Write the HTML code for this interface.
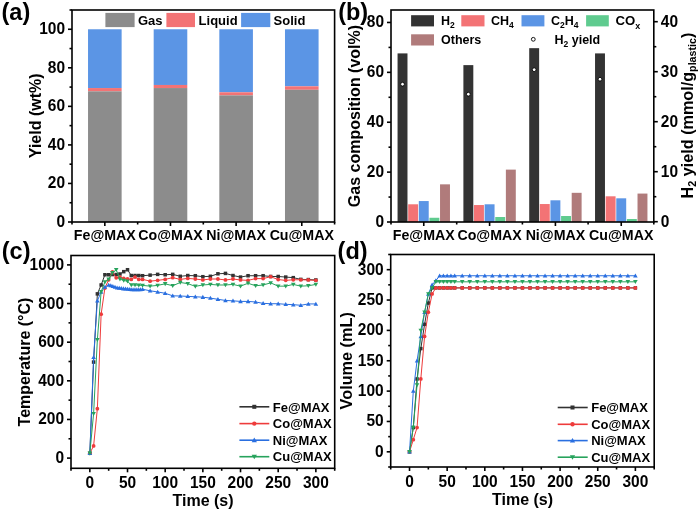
<!DOCTYPE html>
<html><head><meta charset="utf-8"><style>
html,body{margin:0;padding:0;background:#fff;overflow:hidden;width:700px;height:510px;}
svg{display:block;font-family:"Liberation Sans", sans-serif;filter:blur(0.4px);}
</style></head><body>
<svg width="700" height="510" viewBox="0 0 700 510">
<rect x="0" y="0" width="700" height="510" fill="#fff"/>
<rect x="88.03" y="29.27" width="33.60" height="58.78" fill="#5b95e5" />
<rect x="88.03" y="88.05" width="33.60" height="3.28" fill="#f37375" />
<rect x="88.03" y="91.33" width="33.60" height="130.67" fill="#8c8c8c" />
<rect x="153.68" y="29.27" width="33.60" height="55.70" fill="#5b95e5" />
<rect x="153.68" y="84.97" width="33.60" height="3.08" fill="#f37375" />
<rect x="153.68" y="88.05" width="33.60" height="133.95" fill="#8c8c8c" />
<rect x="219.32" y="29.27" width="33.60" height="63.02" fill="#5b95e5" />
<rect x="219.32" y="92.29" width="33.60" height="3.08" fill="#f37375" />
<rect x="219.32" y="95.38" width="33.60" height="126.62" fill="#8c8c8c" />
<rect x="284.98" y="29.27" width="33.60" height="57.05" fill="#5b95e5" />
<rect x="284.98" y="86.32" width="33.60" height="3.47" fill="#f37375" />
<rect x="284.98" y="89.79" width="33.60" height="132.21" fill="#8c8c8c" />
<rect x="72.00" y="10.00" width="262.60" height="212.00" fill="none" stroke="#000" stroke-width="1.6"/>
<line x1="68.00" y1="222.00" x2="72.00" y2="222.00" stroke="#000" stroke-width="1.6"/>
<text transform="translate(65.00,227.00) scale(1,1.12)" font-size="15.5" text-anchor="end" font-weight="bold">0</text>
<line x1="68.00" y1="183.45" x2="72.00" y2="183.45" stroke="#000" stroke-width="1.6"/>
<text transform="translate(65.00,188.45) scale(1,1.12)" font-size="15.5" text-anchor="end" font-weight="bold">20</text>
<line x1="68.00" y1="144.91" x2="72.00" y2="144.91" stroke="#000" stroke-width="1.6"/>
<text transform="translate(65.00,149.91) scale(1,1.12)" font-size="15.5" text-anchor="end" font-weight="bold">40</text>
<line x1="68.00" y1="106.36" x2="72.00" y2="106.36" stroke="#000" stroke-width="1.6"/>
<text transform="translate(65.00,111.36) scale(1,1.12)" font-size="15.5" text-anchor="end" font-weight="bold">60</text>
<line x1="68.00" y1="67.82" x2="72.00" y2="67.82" stroke="#000" stroke-width="1.6"/>
<text transform="translate(65.00,72.82) scale(1,1.12)" font-size="15.5" text-anchor="end" font-weight="bold">80</text>
<line x1="68.00" y1="29.27" x2="72.00" y2="29.27" stroke="#000" stroke-width="1.6"/>
<text transform="translate(65.00,34.27) scale(1,1.12)" font-size="15.5" text-anchor="end" font-weight="bold">100</text>
<line x1="69.50" y1="202.73" x2="72.00" y2="202.73" stroke="#000" stroke-width="1.6"/>
<line x1="69.50" y1="164.18" x2="72.00" y2="164.18" stroke="#000" stroke-width="1.6"/>
<line x1="69.50" y1="125.64" x2="72.00" y2="125.64" stroke="#000" stroke-width="1.6"/>
<line x1="69.50" y1="87.09" x2="72.00" y2="87.09" stroke="#000" stroke-width="1.6"/>
<line x1="69.50" y1="48.55" x2="72.00" y2="48.55" stroke="#000" stroke-width="1.6"/>
<line x1="69.50" y1="10.00" x2="72.00" y2="10.00" stroke="#000" stroke-width="1.6"/>
<line x1="104.83" y1="222.00" x2="104.83" y2="226.00" stroke="#000" stroke-width="1.6"/>
<line x1="170.48" y1="222.00" x2="170.48" y2="226.00" stroke="#000" stroke-width="1.6"/>
<line x1="236.12" y1="222.00" x2="236.12" y2="226.00" stroke="#000" stroke-width="1.6"/>
<line x1="301.78" y1="222.00" x2="301.78" y2="226.00" stroke="#000" stroke-width="1.6"/>
<line x1="72.00" y1="222.00" x2="72.00" y2="224.50" stroke="#000" stroke-width="1.6"/>
<line x1="137.65" y1="222.00" x2="137.65" y2="224.50" stroke="#000" stroke-width="1.6"/>
<line x1="203.30" y1="222.00" x2="203.30" y2="224.50" stroke="#000" stroke-width="1.6"/>
<line x1="268.95" y1="222.00" x2="268.95" y2="224.50" stroke="#000" stroke-width="1.6"/>
<line x1="334.60" y1="222.00" x2="334.60" y2="224.50" stroke="#000" stroke-width="1.6"/>
<text x="104.83" y="240.40" font-size="14.2" text-anchor="middle" font-weight="bold" >Fe@MAX</text>
<text x="170.48" y="240.40" font-size="14.2" text-anchor="middle" font-weight="bold" >Co@MAX</text>
<text x="236.12" y="240.40" font-size="14.2" text-anchor="middle" font-weight="bold" >Ni@MAX</text>
<text x="301.78" y="240.40" font-size="14.2" text-anchor="middle" font-weight="bold" >Cu@MAX</text>
<text x="0.00" y="0.00" font-size="16.0" text-anchor="middle" font-weight="bold" transform="translate(40.8,115.8) rotate(-90)">Yield (wt%)</text>
<rect x="105.40" y="12.90" width="29.20" height="14.20" fill="#8c8c8c" />
<text x="138.00" y="25.00" font-size="13" text-anchor="start" font-weight="bold" >Gas</text>
<rect x="166.40" y="12.90" width="28.60" height="14.20" fill="#f37375" />
<text x="198.60" y="25.00" font-size="13" text-anchor="start" font-weight="bold" >Liquid</text>
<rect x="241.10" y="12.90" width="29.20" height="14.20" fill="#5b95e5" />
<text x="273.60" y="25.00" font-size="13" text-anchor="start" font-weight="bold" >Solid</text>
<text x="1.50" y="20.10" font-size="23.5" text-anchor="start" font-weight="bold" >(a)</text>
<rect x="397.56" y="53.40" width="9.92" height="168.60" fill="#333333" />
<rect x="408.18" y="204.29" width="9.92" height="17.71" fill="#f37375" />
<rect x="418.80" y="201.05" width="9.92" height="20.95" fill="#5b95e5" />
<rect x="429.42" y="217.76" width="9.92" height="4.24" fill="#5fcb8f" />
<rect x="440.04" y="184.34" width="9.92" height="37.66" fill="#b07b7b" />
<rect x="463.39" y="65.12" width="9.92" height="156.88" fill="#333333" />
<rect x="474.01" y="205.04" width="9.92" height="16.96" fill="#f37375" />
<rect x="484.63" y="204.29" width="9.92" height="17.71" fill="#5b95e5" />
<rect x="495.25" y="217.01" width="9.92" height="4.99" fill="#5fcb8f" />
<rect x="505.87" y="169.62" width="9.92" height="52.38" fill="#b07b7b" />
<rect x="529.21" y="48.16" width="9.92" height="173.84" fill="#333333" />
<rect x="539.83" y="204.04" width="9.92" height="17.96" fill="#f37375" />
<rect x="550.45" y="200.30" width="9.92" height="21.70" fill="#5b95e5" />
<rect x="561.07" y="216.01" width="9.92" height="5.99" fill="#5fcb8f" />
<rect x="571.69" y="192.82" width="9.92" height="29.18" fill="#b07b7b" />
<rect x="595.04" y="53.40" width="9.92" height="168.60" fill="#333333" />
<rect x="605.66" y="196.31" width="9.92" height="25.69" fill="#f37375" />
<rect x="616.28" y="198.31" width="9.92" height="23.69" fill="#5b95e5" />
<rect x="626.90" y="219.01" width="9.92" height="2.99" fill="#5fcb8f" />
<rect x="637.52" y="193.57" width="9.92" height="28.43" fill="#b07b7b" />
<circle cx="402.52" cy="84.20" r="1.9" fill="#fff" stroke="#000" stroke-width="0.9"/>
<circle cx="468.35" cy="94.20" r="1.9" fill="#fff" stroke="#000" stroke-width="0.9"/>
<circle cx="534.17" cy="69.70" r="1.9" fill="#fff" stroke="#000" stroke-width="0.9"/>
<circle cx="600.00" cy="79.20" r="1.9" fill="#fff" stroke="#000" stroke-width="0.9"/>
<rect x="391.00" y="10.00" width="262.80" height="212.00" fill="none" stroke="#000" stroke-width="1.6"/>
<line x1="387.00" y1="222.00" x2="391.00" y2="222.00" stroke="#000" stroke-width="1.6"/>
<text transform="translate(384.00,227.00) scale(1,1.12)" font-size="15.5" text-anchor="end" font-weight="bold">0</text>
<line x1="387.00" y1="172.12" x2="391.00" y2="172.12" stroke="#000" stroke-width="1.6"/>
<text transform="translate(384.00,177.12) scale(1,1.12)" font-size="15.5" text-anchor="end" font-weight="bold">20</text>
<line x1="387.00" y1="122.24" x2="391.00" y2="122.24" stroke="#000" stroke-width="1.6"/>
<text transform="translate(384.00,127.24) scale(1,1.12)" font-size="15.5" text-anchor="end" font-weight="bold">40</text>
<line x1="387.00" y1="72.35" x2="391.00" y2="72.35" stroke="#000" stroke-width="1.6"/>
<text transform="translate(384.00,77.35) scale(1,1.12)" font-size="15.5" text-anchor="end" font-weight="bold">60</text>
<line x1="387.00" y1="22.47" x2="391.00" y2="22.47" stroke="#000" stroke-width="1.6"/>
<text transform="translate(384.00,27.47) scale(1,1.12)" font-size="15.5" text-anchor="end" font-weight="bold">80</text>
<line x1="388.50" y1="197.06" x2="391.00" y2="197.06" stroke="#000" stroke-width="1.6"/>
<line x1="388.50" y1="147.18" x2="391.00" y2="147.18" stroke="#000" stroke-width="1.6"/>
<line x1="388.50" y1="97.29" x2="391.00" y2="97.29" stroke="#000" stroke-width="1.6"/>
<line x1="388.50" y1="47.41" x2="391.00" y2="47.41" stroke="#000" stroke-width="1.6"/>
<line x1="653.80" y1="221.70" x2="657.80" y2="221.70" stroke="#000" stroke-width="1.6"/>
<text transform="translate(660.80,226.70) scale(1,1.12)" font-size="15.5" text-anchor="start" font-weight="bold">0</text>
<line x1="653.80" y1="171.70" x2="657.80" y2="171.70" stroke="#000" stroke-width="1.6"/>
<text transform="translate(660.80,176.70) scale(1,1.12)" font-size="15.5" text-anchor="start" font-weight="bold">10</text>
<line x1="653.80" y1="121.70" x2="657.80" y2="121.70" stroke="#000" stroke-width="1.6"/>
<text transform="translate(660.80,126.70) scale(1,1.12)" font-size="15.5" text-anchor="start" font-weight="bold">20</text>
<line x1="653.80" y1="71.70" x2="657.80" y2="71.70" stroke="#000" stroke-width="1.6"/>
<text transform="translate(660.80,76.70) scale(1,1.12)" font-size="15.5" text-anchor="start" font-weight="bold">30</text>
<line x1="653.80" y1="21.70" x2="657.80" y2="21.70" stroke="#000" stroke-width="1.6"/>
<text transform="translate(660.80,26.70) scale(1,1.12)" font-size="15.5" text-anchor="start" font-weight="bold">40</text>
<line x1="653.80" y1="196.70" x2="656.30" y2="196.70" stroke="#000" stroke-width="1.6"/>
<line x1="653.80" y1="146.70" x2="656.30" y2="146.70" stroke="#000" stroke-width="1.6"/>
<line x1="653.80" y1="96.70" x2="656.30" y2="96.70" stroke="#000" stroke-width="1.6"/>
<line x1="653.80" y1="46.70" x2="656.30" y2="46.70" stroke="#000" stroke-width="1.6"/>
<line x1="423.76" y1="222.00" x2="423.76" y2="226.00" stroke="#000" stroke-width="1.6"/>
<line x1="489.59" y1="222.00" x2="489.59" y2="226.00" stroke="#000" stroke-width="1.6"/>
<line x1="555.41" y1="222.00" x2="555.41" y2="226.00" stroke="#000" stroke-width="1.6"/>
<line x1="621.24" y1="222.00" x2="621.24" y2="226.00" stroke="#000" stroke-width="1.6"/>
<line x1="391.00" y1="222.00" x2="391.00" y2="224.50" stroke="#000" stroke-width="1.6"/>
<line x1="456.70" y1="222.00" x2="456.70" y2="224.50" stroke="#000" stroke-width="1.6"/>
<line x1="522.40" y1="222.00" x2="522.40" y2="224.50" stroke="#000" stroke-width="1.6"/>
<line x1="588.10" y1="222.00" x2="588.10" y2="224.50" stroke="#000" stroke-width="1.6"/>
<line x1="653.80" y1="222.00" x2="653.80" y2="224.50" stroke="#000" stroke-width="1.6"/>
<text x="423.76" y="240.40" font-size="14.2" text-anchor="middle" font-weight="bold" >Fe@MAX</text>
<text x="489.59" y="240.40" font-size="14.2" text-anchor="middle" font-weight="bold" >Co@MAX</text>
<text x="555.41" y="240.40" font-size="14.2" text-anchor="middle" font-weight="bold" >Ni@MAX</text>
<text x="621.24" y="240.40" font-size="14.2" text-anchor="middle" font-weight="bold" >Cu@MAX</text>
<text x="0.00" y="0.00" font-size="16.0" text-anchor="middle" font-weight="bold" transform="translate(360.1,116) rotate(-90)">Gas composition (vol%)</text>
<g transform="translate(692.6,115.5) rotate(-90)"><text x="0" y="0" font-size="16.2" font-weight="bold" text-anchor="middle">H<tspan font-size="10.7" dy="3">2</tspan><tspan dy="-3"> yield (mmol/g</tspan><tspan font-size="10.7" dy="3">plastic</tspan><tspan dy="-3">)</tspan></text></g>
<rect x="411.10" y="15.20" width="22.90" height="11.20" fill="#333333" />
<text x="441" y="24.7" font-size="12.5" font-weight="bold">H<tspan font-size="8.5" dy="3">2</tspan></text>
<rect x="461.30" y="15.20" width="23.20" height="11.20" fill="#f37375" />
<text x="491" y="24.7" font-size="12.5" font-weight="bold">CH<tspan font-size="8.5" dy="3">4</tspan></text>
<rect x="521.50" y="15.20" width="22.90" height="11.20" fill="#5b95e5" />
<text x="551" y="24.7" font-size="12.5" font-weight="bold">C<tspan font-size="8.5" dy="3">2</tspan><tspan dy="-3">H</tspan><tspan font-size="8.5" dy="3">4</tspan></text>
<rect x="586.10" y="15.20" width="22.70" height="11.20" fill="#5fcb8f" />
<text x="615.5" y="25" font-size="13.2" font-weight="bold">CO<tspan font-size="9" dy="3.6">x</tspan></text>
<rect x="411.10" y="34.30" width="22.90" height="11.20" fill="#b07b7b" />
<text x="441.00" y="44.30" font-size="12.5" text-anchor="start" font-weight="bold" >Others</text>
<circle cx="533.3" cy="39.3" r="1.9" fill="#fff" stroke="#000" stroke-width="0.9"/>
<text x="554.5" y="44.0" font-size="12.5" font-weight="bold">H<tspan font-size="8.5" dy="3">2</tspan><tspan dy="-3"> yield</tspan></text>
<text x="338.20" y="20.10" font-size="23.5" text-anchor="start" font-weight="bold" >(b)</text>
<polyline points="89.84,453.27 93.60,362.08 97.37,293.88 101.14,284.99 104.90,274.75 108.67,274.75 112.44,274.56 116.21,274.56 119.97,273.98 123.74,271.66 127.51,269.73 131.27,275.53 135.04,275.53 138.81,275.53 142.58,275.72 150.11,275.14 157.64,274.37 165.18,274.75 172.71,274.37 180.25,276.30 187.78,275.53 195.32,275.72 202.85,276.69 210.38,276.30 217.92,273.79 225.45,273.40 232.99,275.53 240.52,277.07 248.06,275.72 255.59,275.72 263.12,275.72 270.66,276.49 278.19,276.49 285.73,277.07 293.26,277.65 300.80,279.39 308.33,279.58 315.86,279.97" fill="none" stroke="#323232" stroke-width="1.0" stroke-linejoin="round"/>
<rect x="88.09" y="451.52" width="3.50" height="3.50" fill="#323232"/>
<rect x="91.85" y="360.33" width="3.50" height="3.50" fill="#323232"/>
<rect x="95.62" y="292.13" width="3.50" height="3.50" fill="#323232"/>
<rect x="99.39" y="283.24" width="3.50" height="3.50" fill="#323232"/>
<rect x="103.15" y="273.00" width="3.50" height="3.50" fill="#323232"/>
<rect x="106.92" y="273.00" width="3.50" height="3.50" fill="#323232"/>
<rect x="110.69" y="272.81" width="3.50" height="3.50" fill="#323232"/>
<rect x="114.46" y="272.81" width="3.50" height="3.50" fill="#323232"/>
<rect x="118.22" y="272.23" width="3.50" height="3.50" fill="#323232"/>
<rect x="121.99" y="269.91" width="3.50" height="3.50" fill="#323232"/>
<rect x="125.76" y="267.98" width="3.50" height="3.50" fill="#323232"/>
<rect x="129.52" y="273.78" width="3.50" height="3.50" fill="#323232"/>
<rect x="133.29" y="273.78" width="3.50" height="3.50" fill="#323232"/>
<rect x="137.06" y="273.78" width="3.50" height="3.50" fill="#323232"/>
<rect x="140.83" y="273.97" width="3.50" height="3.50" fill="#323232"/>
<rect x="148.36" y="273.39" width="3.50" height="3.50" fill="#323232"/>
<rect x="155.89" y="272.62" width="3.50" height="3.50" fill="#323232"/>
<rect x="163.43" y="273.00" width="3.50" height="3.50" fill="#323232"/>
<rect x="170.96" y="272.62" width="3.50" height="3.50" fill="#323232"/>
<rect x="178.50" y="274.55" width="3.50" height="3.50" fill="#323232"/>
<rect x="186.03" y="273.78" width="3.50" height="3.50" fill="#323232"/>
<rect x="193.57" y="273.97" width="3.50" height="3.50" fill="#323232"/>
<rect x="201.10" y="274.94" width="3.50" height="3.50" fill="#323232"/>
<rect x="208.63" y="274.55" width="3.50" height="3.50" fill="#323232"/>
<rect x="216.17" y="272.04" width="3.50" height="3.50" fill="#323232"/>
<rect x="223.70" y="271.65" width="3.50" height="3.50" fill="#323232"/>
<rect x="231.24" y="273.78" width="3.50" height="3.50" fill="#323232"/>
<rect x="238.77" y="275.32" width="3.50" height="3.50" fill="#323232"/>
<rect x="246.31" y="273.97" width="3.50" height="3.50" fill="#323232"/>
<rect x="253.84" y="273.97" width="3.50" height="3.50" fill="#323232"/>
<rect x="261.37" y="273.97" width="3.50" height="3.50" fill="#323232"/>
<rect x="268.91" y="274.74" width="3.50" height="3.50" fill="#323232"/>
<rect x="276.44" y="274.74" width="3.50" height="3.50" fill="#323232"/>
<rect x="283.98" y="275.32" width="3.50" height="3.50" fill="#323232"/>
<rect x="291.51" y="275.90" width="3.50" height="3.50" fill="#323232"/>
<rect x="299.05" y="277.64" width="3.50" height="3.50" fill="#323232"/>
<rect x="306.58" y="277.83" width="3.50" height="3.50" fill="#323232"/>
<rect x="314.11" y="278.22" width="3.50" height="3.50" fill="#323232"/>
<polyline points="89.84,453.27 93.60,445.93 97.37,408.64 101.14,314.17 104.90,288.08 108.67,279.78 112.44,271.86 116.21,277.84 119.97,277.26 123.74,278.42 127.51,279.00 131.27,279.39 135.04,277.07 138.81,279.39 142.58,279.39 150.11,281.13 157.64,280.36 165.18,279.39 172.71,277.65 180.25,279.39 187.78,278.42 195.32,279.00 202.85,279.97 210.38,279.00 217.92,279.00 225.45,279.97 232.99,279.00 240.52,279.97 248.06,280.36 255.59,278.62 263.12,278.62 270.66,276.69 278.19,279.58 285.73,280.36 293.26,279.78 300.80,279.78 308.33,279.97 315.86,280.36" fill="none" stroke="#ee3b3b" stroke-width="1.0" stroke-linejoin="round"/>
<circle cx="89.84" cy="453.27" r="1.90" fill="#ee3b3b"/>
<circle cx="93.60" cy="445.93" r="1.90" fill="#ee3b3b"/>
<circle cx="97.37" cy="408.64" r="1.90" fill="#ee3b3b"/>
<circle cx="101.14" cy="314.17" r="1.90" fill="#ee3b3b"/>
<circle cx="104.90" cy="288.08" r="1.90" fill="#ee3b3b"/>
<circle cx="108.67" cy="279.78" r="1.90" fill="#ee3b3b"/>
<circle cx="112.44" cy="271.86" r="1.90" fill="#ee3b3b"/>
<circle cx="116.21" cy="277.84" r="1.90" fill="#ee3b3b"/>
<circle cx="119.97" cy="277.26" r="1.90" fill="#ee3b3b"/>
<circle cx="123.74" cy="278.42" r="1.90" fill="#ee3b3b"/>
<circle cx="127.51" cy="279.00" r="1.90" fill="#ee3b3b"/>
<circle cx="131.27" cy="279.39" r="1.90" fill="#ee3b3b"/>
<circle cx="135.04" cy="277.07" r="1.90" fill="#ee3b3b"/>
<circle cx="138.81" cy="279.39" r="1.90" fill="#ee3b3b"/>
<circle cx="142.58" cy="279.39" r="1.90" fill="#ee3b3b"/>
<circle cx="150.11" cy="281.13" r="1.90" fill="#ee3b3b"/>
<circle cx="157.64" cy="280.36" r="1.90" fill="#ee3b3b"/>
<circle cx="165.18" cy="279.39" r="1.90" fill="#ee3b3b"/>
<circle cx="172.71" cy="277.65" r="1.90" fill="#ee3b3b"/>
<circle cx="180.25" cy="279.39" r="1.90" fill="#ee3b3b"/>
<circle cx="187.78" cy="278.42" r="1.90" fill="#ee3b3b"/>
<circle cx="195.32" cy="279.00" r="1.90" fill="#ee3b3b"/>
<circle cx="202.85" cy="279.97" r="1.90" fill="#ee3b3b"/>
<circle cx="210.38" cy="279.00" r="1.90" fill="#ee3b3b"/>
<circle cx="217.92" cy="279.00" r="1.90" fill="#ee3b3b"/>
<circle cx="225.45" cy="279.97" r="1.90" fill="#ee3b3b"/>
<circle cx="232.99" cy="279.00" r="1.90" fill="#ee3b3b"/>
<circle cx="240.52" cy="279.97" r="1.90" fill="#ee3b3b"/>
<circle cx="248.06" cy="280.36" r="1.90" fill="#ee3b3b"/>
<circle cx="255.59" cy="278.62" r="1.90" fill="#ee3b3b"/>
<circle cx="263.12" cy="278.62" r="1.90" fill="#ee3b3b"/>
<circle cx="270.66" cy="276.69" r="1.90" fill="#ee3b3b"/>
<circle cx="278.19" cy="279.58" r="1.90" fill="#ee3b3b"/>
<circle cx="285.73" cy="280.36" r="1.90" fill="#ee3b3b"/>
<circle cx="293.26" cy="279.78" r="1.90" fill="#ee3b3b"/>
<circle cx="300.80" cy="279.78" r="1.90" fill="#ee3b3b"/>
<circle cx="308.33" cy="279.97" r="1.90" fill="#ee3b3b"/>
<circle cx="315.86" cy="280.36" r="1.90" fill="#ee3b3b"/>
<polyline points="89.84,453.27 93.60,357.25 97.37,300.84 101.14,291.95 104.90,287.12 108.67,284.99 110.78,285.57 112.89,286.35 115.00,287.12 117.11,287.70 119.22,288.08 121.33,288.28 123.44,288.66 125.55,288.86 127.66,289.05 129.77,289.24 131.88,289.44 133.99,289.63 136.10,289.63 138.21,289.44 140.32,289.44 142.58,289.24 150.11,290.79 157.64,291.95 165.18,293.30 172.71,295.81 180.25,296.01 187.78,296.39 195.32,296.78 202.85,297.16 210.38,298.13 217.92,299.29 225.45,300.45 232.99,300.84 240.52,301.41 248.06,301.41 255.59,301.99 263.12,303.35 270.66,303.73 278.19,303.73 285.73,304.31 293.26,304.70 300.80,305.28 308.33,303.93 315.86,303.93" fill="none" stroke="#2a6fe0" stroke-width="1.0" stroke-linejoin="round"/>
<polygon points="89.84,450.97 92.14,455.00 87.54,455.00" fill="#2a6fe0"/>
<polygon points="93.60,354.95 95.90,358.97 91.30,358.97" fill="#2a6fe0"/>
<polygon points="97.37,298.54 99.67,302.56 95.07,302.56" fill="#2a6fe0"/>
<polygon points="101.14,289.65 103.44,293.67 98.84,293.67" fill="#2a6fe0"/>
<polygon points="104.90,284.82 107.20,288.84 102.60,288.84" fill="#2a6fe0"/>
<polygon points="108.67,282.69 110.97,286.72 106.37,286.72" fill="#2a6fe0"/>
<polygon points="110.78,283.27 113.08,287.30 108.48,287.30" fill="#2a6fe0"/>
<polygon points="112.89,284.05 115.19,288.07 110.59,288.07" fill="#2a6fe0"/>
<polygon points="115.00,284.82 117.30,288.84 112.70,288.84" fill="#2a6fe0"/>
<polygon points="117.11,285.40 119.41,289.42 114.81,289.42" fill="#2a6fe0"/>
<polygon points="119.22,285.78 121.52,289.81 116.92,289.81" fill="#2a6fe0"/>
<polygon points="121.33,285.98 123.63,290.00 119.03,290.00" fill="#2a6fe0"/>
<polygon points="123.44,286.36 125.74,290.39 121.14,290.39" fill="#2a6fe0"/>
<polygon points="125.55,286.56 127.85,290.58 123.25,290.58" fill="#2a6fe0"/>
<polygon points="127.66,286.75 129.96,290.78 125.36,290.78" fill="#2a6fe0"/>
<polygon points="129.77,286.94 132.07,290.97 127.47,290.97" fill="#2a6fe0"/>
<polygon points="131.88,287.14 134.18,291.16 129.58,291.16" fill="#2a6fe0"/>
<polygon points="133.99,287.33 136.29,291.35 131.69,291.35" fill="#2a6fe0"/>
<polygon points="136.10,287.33 138.40,291.35 133.80,291.35" fill="#2a6fe0"/>
<polygon points="138.21,287.14 140.51,291.16 135.91,291.16" fill="#2a6fe0"/>
<polygon points="140.32,287.14 142.62,291.16 138.02,291.16" fill="#2a6fe0"/>
<polygon points="142.58,286.94 144.88,290.97 140.28,290.97" fill="#2a6fe0"/>
<polygon points="150.11,288.49 152.41,292.51 147.81,292.51" fill="#2a6fe0"/>
<polygon points="157.64,289.65 159.94,293.67 155.34,293.67" fill="#2a6fe0"/>
<polygon points="165.18,291.00 167.48,295.03 162.88,295.03" fill="#2a6fe0"/>
<polygon points="172.71,293.51 175.01,297.54 170.41,297.54" fill="#2a6fe0"/>
<polygon points="180.25,293.71 182.55,297.73 177.95,297.73" fill="#2a6fe0"/>
<polygon points="187.78,294.09 190.08,298.12 185.48,298.12" fill="#2a6fe0"/>
<polygon points="195.32,294.48 197.62,298.50 193.02,298.50" fill="#2a6fe0"/>
<polygon points="202.85,294.86 205.15,298.89 200.55,298.89" fill="#2a6fe0"/>
<polygon points="210.38,295.83 212.68,299.86 208.08,299.86" fill="#2a6fe0"/>
<polygon points="217.92,296.99 220.22,301.01 215.62,301.01" fill="#2a6fe0"/>
<polygon points="225.45,298.15 227.75,302.17 223.15,302.17" fill="#2a6fe0"/>
<polygon points="232.99,298.54 235.29,302.56 230.69,302.56" fill="#2a6fe0"/>
<polygon points="240.52,299.11 242.82,303.14 238.22,303.14" fill="#2a6fe0"/>
<polygon points="248.06,299.11 250.36,303.14 245.76,303.14" fill="#2a6fe0"/>
<polygon points="255.59,299.69 257.89,303.72 253.29,303.72" fill="#2a6fe0"/>
<polygon points="263.12,301.05 265.42,305.07 260.82,305.07" fill="#2a6fe0"/>
<polygon points="270.66,301.43 272.96,305.46 268.36,305.46" fill="#2a6fe0"/>
<polygon points="278.19,301.43 280.49,305.46 275.89,305.46" fill="#2a6fe0"/>
<polygon points="285.73,302.01 288.03,306.04 283.43,306.04" fill="#2a6fe0"/>
<polygon points="293.26,302.40 295.56,306.42 290.96,306.42" fill="#2a6fe0"/>
<polygon points="300.80,302.98 303.10,307.00 298.50,307.00" fill="#2a6fe0"/>
<polygon points="308.33,301.63 310.63,305.65 306.03,305.65" fill="#2a6fe0"/>
<polygon points="315.86,301.63 318.16,305.65 313.56,305.65" fill="#2a6fe0"/>
<polyline points="89.84,453.27 93.60,413.66 97.37,339.67 101.14,291.75 104.90,281.90 108.67,279.20 112.44,272.82 116.21,269.73 119.97,279.20 123.74,280.36 127.51,281.32 131.27,284.99 135.04,284.99 138.81,285.19 142.58,285.38 150.11,286.15 157.64,285.38 165.18,283.83 172.71,285.77 180.25,282.48 187.78,283.64 195.32,286.35 202.85,284.99 210.38,284.41 217.92,284.99 225.45,284.99 232.99,284.41 240.52,286.15 248.06,283.25 255.59,285.77 263.12,284.99 270.66,282.87 278.19,286.15 285.73,286.15 293.26,284.41 300.80,286.15 308.33,285.77 315.86,284.41" fill="none" stroke="#27a35c" stroke-width="1.0" stroke-linejoin="round"/>
<polygon points="89.84,455.57 92.14,451.55 87.54,451.55" fill="#27a35c"/>
<polygon points="93.60,415.96 95.90,411.94 91.30,411.94" fill="#27a35c"/>
<polygon points="97.37,341.97 99.67,337.94 95.07,337.94" fill="#27a35c"/>
<polygon points="101.14,294.05 103.44,290.03 98.84,290.03" fill="#27a35c"/>
<polygon points="104.90,284.20 107.20,280.18 102.60,280.18" fill="#27a35c"/>
<polygon points="108.67,281.50 110.97,277.47 106.37,277.47" fill="#27a35c"/>
<polygon points="112.44,275.12 114.74,271.10 110.14,271.10" fill="#27a35c"/>
<polygon points="116.21,272.03 118.51,268.00 113.91,268.00" fill="#27a35c"/>
<polygon points="119.97,281.50 122.27,277.47 117.67,277.47" fill="#27a35c"/>
<polygon points="123.74,282.66 126.04,278.63 121.44,278.63" fill="#27a35c"/>
<polygon points="127.51,283.62 129.81,279.60 125.21,279.60" fill="#27a35c"/>
<polygon points="131.27,287.29 133.57,283.27 128.97,283.27" fill="#27a35c"/>
<polygon points="135.04,287.29 137.34,283.27 132.74,283.27" fill="#27a35c"/>
<polygon points="138.81,287.49 141.11,283.46 136.51,283.46" fill="#27a35c"/>
<polygon points="142.58,287.68 144.88,283.65 140.28,283.65" fill="#27a35c"/>
<polygon points="150.11,288.45 152.41,284.43 147.81,284.43" fill="#27a35c"/>
<polygon points="157.64,287.68 159.94,283.65 155.34,283.65" fill="#27a35c"/>
<polygon points="165.18,286.13 167.48,282.11 162.88,282.11" fill="#27a35c"/>
<polygon points="172.71,288.07 175.01,284.04 170.41,284.04" fill="#27a35c"/>
<polygon points="180.25,284.78 182.55,280.76 177.95,280.76" fill="#27a35c"/>
<polygon points="187.78,285.94 190.08,281.92 185.48,281.92" fill="#27a35c"/>
<polygon points="195.32,288.65 197.62,284.62 193.02,284.62" fill="#27a35c"/>
<polygon points="202.85,287.29 205.15,283.27 200.55,283.27" fill="#27a35c"/>
<polygon points="210.38,286.71 212.68,282.69 208.08,282.69" fill="#27a35c"/>
<polygon points="217.92,287.29 220.22,283.27 215.62,283.27" fill="#27a35c"/>
<polygon points="225.45,287.29 227.75,283.27 223.15,283.27" fill="#27a35c"/>
<polygon points="232.99,286.71 235.29,282.69 230.69,282.69" fill="#27a35c"/>
<polygon points="240.52,288.45 242.82,284.43 238.22,284.43" fill="#27a35c"/>
<polygon points="248.06,285.55 250.36,281.53 245.76,281.53" fill="#27a35c"/>
<polygon points="255.59,288.07 257.89,284.04 253.29,284.04" fill="#27a35c"/>
<polygon points="263.12,287.29 265.42,283.27 260.82,283.27" fill="#27a35c"/>
<polygon points="270.66,285.17 272.96,281.14 268.36,281.14" fill="#27a35c"/>
<polygon points="278.19,288.45 280.49,284.43 275.89,284.43" fill="#27a35c"/>
<polygon points="285.73,288.45 288.03,284.43 283.43,284.43" fill="#27a35c"/>
<polygon points="293.26,286.71 295.56,282.69 290.96,282.69" fill="#27a35c"/>
<polygon points="300.80,288.45 303.10,284.43 298.50,284.43" fill="#27a35c"/>
<polygon points="308.33,288.07 310.63,284.04 306.03,284.04" fill="#27a35c"/>
<polygon points="315.86,286.71 318.16,282.69 313.56,282.69" fill="#27a35c"/>
<rect x="71.00" y="255.50" width="263.70" height="212.80" fill="none" stroke="#000" stroke-width="1.6"/>
<line x1="67.00" y1="458.10" x2="71.00" y2="458.10" stroke="#000" stroke-width="1.6"/>
<text transform="translate(64.00,463.10) scale(1,1.12)" font-size="15.5" text-anchor="end" font-weight="bold">0</text>
<line x1="67.00" y1="419.46" x2="71.00" y2="419.46" stroke="#000" stroke-width="1.6"/>
<text transform="translate(64.00,424.46) scale(1,1.12)" font-size="15.5" text-anchor="end" font-weight="bold">200</text>
<line x1="67.00" y1="380.82" x2="71.00" y2="380.82" stroke="#000" stroke-width="1.6"/>
<text transform="translate(64.00,385.82) scale(1,1.12)" font-size="15.5" text-anchor="end" font-weight="bold">400</text>
<line x1="67.00" y1="342.18" x2="71.00" y2="342.18" stroke="#000" stroke-width="1.6"/>
<text transform="translate(64.00,347.18) scale(1,1.12)" font-size="15.5" text-anchor="end" font-weight="bold">600</text>
<line x1="67.00" y1="303.54" x2="71.00" y2="303.54" stroke="#000" stroke-width="1.6"/>
<text transform="translate(64.00,308.54) scale(1,1.12)" font-size="15.5" text-anchor="end" font-weight="bold">800</text>
<line x1="67.00" y1="264.90" x2="71.00" y2="264.90" stroke="#000" stroke-width="1.6"/>
<text transform="translate(64.00,269.90) scale(1,1.12)" font-size="15.5" text-anchor="end" font-weight="bold">1000</text>
<line x1="68.50" y1="438.78" x2="71.00" y2="438.78" stroke="#000" stroke-width="1.6"/>
<line x1="68.50" y1="400.14" x2="71.00" y2="400.14" stroke="#000" stroke-width="1.6"/>
<line x1="68.50" y1="361.50" x2="71.00" y2="361.50" stroke="#000" stroke-width="1.6"/>
<line x1="68.50" y1="322.86" x2="71.00" y2="322.86" stroke="#000" stroke-width="1.6"/>
<line x1="68.50" y1="284.22" x2="71.00" y2="284.22" stroke="#000" stroke-width="1.6"/>
<line x1="89.84" y1="468.30" x2="89.84" y2="472.30" stroke="#000" stroke-width="1.6"/>
<text transform="translate(89.84,487.60) scale(1,1.12)" font-size="15.5" text-anchor="middle" font-weight="bold">0</text>
<line x1="127.51" y1="468.30" x2="127.51" y2="472.30" stroke="#000" stroke-width="1.6"/>
<text transform="translate(127.51,487.60) scale(1,1.12)" font-size="15.5" text-anchor="middle" font-weight="bold">50</text>
<line x1="165.18" y1="468.30" x2="165.18" y2="472.30" stroke="#000" stroke-width="1.6"/>
<text transform="translate(165.18,487.60) scale(1,1.12)" font-size="15.5" text-anchor="middle" font-weight="bold">100</text>
<line x1="202.85" y1="468.30" x2="202.85" y2="472.30" stroke="#000" stroke-width="1.6"/>
<text transform="translate(202.85,487.60) scale(1,1.12)" font-size="15.5" text-anchor="middle" font-weight="bold">150</text>
<line x1="240.52" y1="468.30" x2="240.52" y2="472.30" stroke="#000" stroke-width="1.6"/>
<text transform="translate(240.52,487.60) scale(1,1.12)" font-size="15.5" text-anchor="middle" font-weight="bold">200</text>
<line x1="278.19" y1="468.30" x2="278.19" y2="472.30" stroke="#000" stroke-width="1.6"/>
<text transform="translate(278.19,487.60) scale(1,1.12)" font-size="15.5" text-anchor="middle" font-weight="bold">250</text>
<line x1="315.86" y1="468.30" x2="315.86" y2="472.30" stroke="#000" stroke-width="1.6"/>
<text transform="translate(315.86,487.60) scale(1,1.12)" font-size="15.5" text-anchor="middle" font-weight="bold">300</text>
<line x1="71.00" y1="468.30" x2="71.00" y2="470.80" stroke="#000" stroke-width="1.6"/>
<line x1="108.67" y1="468.30" x2="108.67" y2="470.80" stroke="#000" stroke-width="1.6"/>
<line x1="146.34" y1="468.30" x2="146.34" y2="470.80" stroke="#000" stroke-width="1.6"/>
<line x1="184.01" y1="468.30" x2="184.01" y2="470.80" stroke="#000" stroke-width="1.6"/>
<line x1="221.69" y1="468.30" x2="221.69" y2="470.80" stroke="#000" stroke-width="1.6"/>
<line x1="259.36" y1="468.30" x2="259.36" y2="470.80" stroke="#000" stroke-width="1.6"/>
<line x1="297.03" y1="468.30" x2="297.03" y2="470.80" stroke="#000" stroke-width="1.6"/>
<line x1="334.70" y1="468.30" x2="334.70" y2="470.80" stroke="#000" stroke-width="1.6"/>
<text x="203.00" y="505.60" font-size="16" text-anchor="middle" font-weight="bold" >Time (s)</text>
<text x="0.00" y="0.00" font-size="16.0" text-anchor="middle" font-weight="bold" transform="translate(29.6,362) rotate(-90)">Temperature (°C)</text>
<text x="1.80" y="259.20" font-size="23.5" text-anchor="start" font-weight="bold" >(c)</text>
<line x1="239.40" y1="406.80" x2="269.30" y2="406.80" stroke="#323232" stroke-width="1.6"/>
<rect x="252.29" y="404.79" width="4.02" height="4.02" fill="#323232"/>
<text x="272.80" y="411.55" font-size="13.0" text-anchor="start" font-weight="bold" >Fe@MAX</text>
<line x1="239.40" y1="423.60" x2="269.30" y2="423.60" stroke="#ee3b3b" stroke-width="1.6"/>
<circle cx="254.30" cy="423.60" r="2.18" fill="#ee3b3b"/>
<text x="272.80" y="428.35" font-size="13.0" text-anchor="start" font-weight="bold" >Co@MAX</text>
<line x1="239.40" y1="440.20" x2="269.30" y2="440.20" stroke="#2a6fe0" stroke-width="1.6"/>
<polygon points="254.30,437.56 256.94,442.18 251.66,442.18" fill="#2a6fe0"/>
<text x="272.80" y="444.95" font-size="13.0" text-anchor="start" font-weight="bold" >Ni@MAX</text>
<line x1="239.40" y1="456.70" x2="269.30" y2="456.70" stroke="#27a35c" stroke-width="1.6"/>
<polygon points="254.30,459.34 256.94,454.72 251.66,454.72" fill="#27a35c"/>
<text x="272.80" y="461.45" font-size="13.0" text-anchor="start" font-weight="bold" >Cu@MAX</text>
<polyline points="409.52,451.82 413.29,427.54 417.05,378.96 420.81,348.61 424.58,324.32 428.34,303.07 432.11,287.89 435.87,287.89 439.64,287.89 443.40,287.89 447.16,287.89 450.93,287.89 454.69,287.89 462.22,287.89 469.75,287.89 477.28,287.89 484.81,287.89 492.34,287.89 499.86,287.89 507.39,287.89 514.92,287.89 522.45,287.89 529.98,287.89 537.51,287.89 545.04,287.89 552.56,287.89 560.09,287.89 567.62,287.89 575.15,287.89 582.68,287.89 590.21,287.89 597.74,287.89 605.26,287.89 612.79,287.89 620.32,287.89 627.85,287.89 635.38,287.89" fill="none" stroke="#323232" stroke-width="1.0" stroke-linejoin="round"/>
<rect x="407.77" y="450.07" width="3.50" height="3.50" fill="#323232"/>
<rect x="411.54" y="425.79" width="3.50" height="3.50" fill="#323232"/>
<rect x="415.30" y="377.21" width="3.50" height="3.50" fill="#323232"/>
<rect x="419.06" y="346.86" width="3.50" height="3.50" fill="#323232"/>
<rect x="422.83" y="322.57" width="3.50" height="3.50" fill="#323232"/>
<rect x="426.59" y="301.32" width="3.50" height="3.50" fill="#323232"/>
<rect x="430.36" y="286.14" width="3.50" height="3.50" fill="#323232"/>
<rect x="434.12" y="286.14" width="3.50" height="3.50" fill="#323232"/>
<rect x="437.89" y="286.14" width="3.50" height="3.50" fill="#323232"/>
<rect x="441.65" y="286.14" width="3.50" height="3.50" fill="#323232"/>
<rect x="445.41" y="286.14" width="3.50" height="3.50" fill="#323232"/>
<rect x="449.18" y="286.14" width="3.50" height="3.50" fill="#323232"/>
<rect x="452.94" y="286.14" width="3.50" height="3.50" fill="#323232"/>
<rect x="460.47" y="286.14" width="3.50" height="3.50" fill="#323232"/>
<rect x="468.00" y="286.14" width="3.50" height="3.50" fill="#323232"/>
<rect x="475.53" y="286.14" width="3.50" height="3.50" fill="#323232"/>
<rect x="483.06" y="286.14" width="3.50" height="3.50" fill="#323232"/>
<rect x="490.59" y="286.14" width="3.50" height="3.50" fill="#323232"/>
<rect x="498.11" y="286.14" width="3.50" height="3.50" fill="#323232"/>
<rect x="505.64" y="286.14" width="3.50" height="3.50" fill="#323232"/>
<rect x="513.17" y="286.14" width="3.50" height="3.50" fill="#323232"/>
<rect x="520.70" y="286.14" width="3.50" height="3.50" fill="#323232"/>
<rect x="528.23" y="286.14" width="3.50" height="3.50" fill="#323232"/>
<rect x="535.76" y="286.14" width="3.50" height="3.50" fill="#323232"/>
<rect x="543.29" y="286.14" width="3.50" height="3.50" fill="#323232"/>
<rect x="550.81" y="286.14" width="3.50" height="3.50" fill="#323232"/>
<rect x="558.34" y="286.14" width="3.50" height="3.50" fill="#323232"/>
<rect x="565.87" y="286.14" width="3.50" height="3.50" fill="#323232"/>
<rect x="573.40" y="286.14" width="3.50" height="3.50" fill="#323232"/>
<rect x="580.93" y="286.14" width="3.50" height="3.50" fill="#323232"/>
<rect x="588.46" y="286.14" width="3.50" height="3.50" fill="#323232"/>
<rect x="595.99" y="286.14" width="3.50" height="3.50" fill="#323232"/>
<rect x="603.51" y="286.14" width="3.50" height="3.50" fill="#323232"/>
<rect x="611.04" y="286.14" width="3.50" height="3.50" fill="#323232"/>
<rect x="618.57" y="286.14" width="3.50" height="3.50" fill="#323232"/>
<rect x="626.10" y="286.14" width="3.50" height="3.50" fill="#323232"/>
<rect x="633.63" y="286.14" width="3.50" height="3.50" fill="#323232"/>
<polyline points="409.52,451.82 413.29,439.68 417.05,427.54 420.81,378.96 424.58,336.46 428.34,312.18 432.11,293.96 435.87,287.89 439.64,287.89 443.40,287.89 447.16,287.89 450.93,287.89 454.69,287.89 462.22,287.89 469.75,287.89 477.28,287.89 484.81,287.89 492.34,287.89 499.86,287.89 507.39,287.89 514.92,287.89 522.45,287.89 529.98,287.89 537.51,287.89 545.04,287.89 552.56,287.89 560.09,287.89 567.62,287.89 575.15,287.89 582.68,287.89 590.21,287.89 597.74,287.89 605.26,287.89 612.79,287.89 620.32,287.89 627.85,287.89 635.38,287.89" fill="none" stroke="#ee3b3b" stroke-width="1.0" stroke-linejoin="round"/>
<circle cx="409.52" cy="451.82" r="1.90" fill="#ee3b3b"/>
<circle cx="413.29" cy="439.68" r="1.90" fill="#ee3b3b"/>
<circle cx="417.05" cy="427.54" r="1.90" fill="#ee3b3b"/>
<circle cx="420.81" cy="378.96" r="1.90" fill="#ee3b3b"/>
<circle cx="424.58" cy="336.46" r="1.90" fill="#ee3b3b"/>
<circle cx="428.34" cy="312.18" r="1.90" fill="#ee3b3b"/>
<circle cx="432.11" cy="293.96" r="1.90" fill="#ee3b3b"/>
<circle cx="435.87" cy="287.89" r="1.90" fill="#ee3b3b"/>
<circle cx="439.64" cy="287.89" r="1.90" fill="#ee3b3b"/>
<circle cx="443.40" cy="287.89" r="1.90" fill="#ee3b3b"/>
<circle cx="447.16" cy="287.89" r="1.90" fill="#ee3b3b"/>
<circle cx="450.93" cy="287.89" r="1.90" fill="#ee3b3b"/>
<circle cx="454.69" cy="287.89" r="1.90" fill="#ee3b3b"/>
<circle cx="462.22" cy="287.89" r="1.90" fill="#ee3b3b"/>
<circle cx="469.75" cy="287.89" r="1.90" fill="#ee3b3b"/>
<circle cx="477.28" cy="287.89" r="1.90" fill="#ee3b3b"/>
<circle cx="484.81" cy="287.89" r="1.90" fill="#ee3b3b"/>
<circle cx="492.34" cy="287.89" r="1.90" fill="#ee3b3b"/>
<circle cx="499.86" cy="287.89" r="1.90" fill="#ee3b3b"/>
<circle cx="507.39" cy="287.89" r="1.90" fill="#ee3b3b"/>
<circle cx="514.92" cy="287.89" r="1.90" fill="#ee3b3b"/>
<circle cx="522.45" cy="287.89" r="1.90" fill="#ee3b3b"/>
<circle cx="529.98" cy="287.89" r="1.90" fill="#ee3b3b"/>
<circle cx="537.51" cy="287.89" r="1.90" fill="#ee3b3b"/>
<circle cx="545.04" cy="287.89" r="1.90" fill="#ee3b3b"/>
<circle cx="552.56" cy="287.89" r="1.90" fill="#ee3b3b"/>
<circle cx="560.09" cy="287.89" r="1.90" fill="#ee3b3b"/>
<circle cx="567.62" cy="287.89" r="1.90" fill="#ee3b3b"/>
<circle cx="575.15" cy="287.89" r="1.90" fill="#ee3b3b"/>
<circle cx="582.68" cy="287.89" r="1.90" fill="#ee3b3b"/>
<circle cx="590.21" cy="287.89" r="1.90" fill="#ee3b3b"/>
<circle cx="597.74" cy="287.89" r="1.90" fill="#ee3b3b"/>
<circle cx="605.26" cy="287.89" r="1.90" fill="#ee3b3b"/>
<circle cx="612.79" cy="287.89" r="1.90" fill="#ee3b3b"/>
<circle cx="620.32" cy="287.89" r="1.90" fill="#ee3b3b"/>
<circle cx="627.85" cy="287.89" r="1.90" fill="#ee3b3b"/>
<circle cx="635.38" cy="287.89" r="1.90" fill="#ee3b3b"/>
<polyline points="409.52,451.82 413.29,391.11 417.05,360.75 420.81,336.46 424.58,312.18 428.34,293.96 432.11,284.86 435.87,280.61 439.64,275.75 443.40,275.75 447.16,275.75 450.93,275.75 454.69,275.75 462.22,275.75 469.75,275.75 477.28,275.75 484.81,275.75 492.34,275.75 499.86,275.75 507.39,275.75 514.92,275.75 522.45,275.75 529.98,275.75 537.51,275.75 545.04,275.75 552.56,275.75 560.09,275.75 567.62,275.75 575.15,275.75 582.68,275.75 590.21,275.75 597.74,275.75 605.26,275.75 612.79,275.75 620.32,275.75 627.85,275.75 635.38,275.75" fill="none" stroke="#2a6fe0" stroke-width="1.0" stroke-linejoin="round"/>
<polygon points="409.52,449.52 411.82,453.55 407.22,453.55" fill="#2a6fe0"/>
<polygon points="413.29,388.81 415.59,392.83 410.99,392.83" fill="#2a6fe0"/>
<polygon points="417.05,358.45 419.35,362.48 414.75,362.48" fill="#2a6fe0"/>
<polygon points="420.81,334.16 423.11,338.19 418.51,338.19" fill="#2a6fe0"/>
<polygon points="424.58,309.88 426.88,313.90 422.28,313.90" fill="#2a6fe0"/>
<polygon points="428.34,291.66 430.64,295.69 426.04,295.69" fill="#2a6fe0"/>
<polygon points="432.11,282.56 434.41,286.58 429.81,286.58" fill="#2a6fe0"/>
<polygon points="435.87,278.31 438.17,282.33 433.57,282.33" fill="#2a6fe0"/>
<polygon points="439.64,273.45 441.94,277.48 437.34,277.48" fill="#2a6fe0"/>
<polygon points="443.40,273.45 445.70,277.48 441.10,277.48" fill="#2a6fe0"/>
<polygon points="447.16,273.45 449.46,277.48 444.86,277.48" fill="#2a6fe0"/>
<polygon points="450.93,273.45 453.23,277.48 448.63,277.48" fill="#2a6fe0"/>
<polygon points="454.69,273.45 456.99,277.48 452.39,277.48" fill="#2a6fe0"/>
<polygon points="462.22,273.45 464.52,277.48 459.92,277.48" fill="#2a6fe0"/>
<polygon points="469.75,273.45 472.05,277.48 467.45,277.48" fill="#2a6fe0"/>
<polygon points="477.28,273.45 479.58,277.48 474.98,277.48" fill="#2a6fe0"/>
<polygon points="484.81,273.45 487.11,277.48 482.51,277.48" fill="#2a6fe0"/>
<polygon points="492.34,273.45 494.64,277.48 490.04,277.48" fill="#2a6fe0"/>
<polygon points="499.86,273.45 502.16,277.48 497.56,277.48" fill="#2a6fe0"/>
<polygon points="507.39,273.45 509.69,277.48 505.09,277.48" fill="#2a6fe0"/>
<polygon points="514.92,273.45 517.22,277.48 512.62,277.48" fill="#2a6fe0"/>
<polygon points="522.45,273.45 524.75,277.48 520.15,277.48" fill="#2a6fe0"/>
<polygon points="529.98,273.45 532.28,277.48 527.68,277.48" fill="#2a6fe0"/>
<polygon points="537.51,273.45 539.81,277.48 535.21,277.48" fill="#2a6fe0"/>
<polygon points="545.04,273.45 547.34,277.48 542.74,277.48" fill="#2a6fe0"/>
<polygon points="552.56,273.45 554.86,277.48 550.26,277.48" fill="#2a6fe0"/>
<polygon points="560.09,273.45 562.39,277.48 557.79,277.48" fill="#2a6fe0"/>
<polygon points="567.62,273.45 569.92,277.48 565.32,277.48" fill="#2a6fe0"/>
<polygon points="575.15,273.45 577.45,277.48 572.85,277.48" fill="#2a6fe0"/>
<polygon points="582.68,273.45 584.98,277.48 580.38,277.48" fill="#2a6fe0"/>
<polygon points="590.21,273.45 592.51,277.48 587.91,277.48" fill="#2a6fe0"/>
<polygon points="597.74,273.45 600.04,277.48 595.44,277.48" fill="#2a6fe0"/>
<polygon points="605.26,273.45 607.56,277.48 602.96,277.48" fill="#2a6fe0"/>
<polygon points="612.79,273.45 615.09,277.48 610.49,277.48" fill="#2a6fe0"/>
<polygon points="620.32,273.45 622.62,277.48 618.02,277.48" fill="#2a6fe0"/>
<polygon points="627.85,273.45 630.15,277.48 625.55,277.48" fill="#2a6fe0"/>
<polygon points="635.38,273.45 637.68,277.48 633.08,277.48" fill="#2a6fe0"/>
<polyline points="409.52,451.82 413.29,427.54 417.05,385.04 420.81,330.39 424.58,312.18 428.34,293.96 432.11,287.89 435.87,281.82 439.64,281.82 443.40,281.82 447.16,281.82 450.93,281.82 454.69,281.82 462.22,281.82 469.75,281.82 477.28,281.82 484.81,281.82 492.34,281.82 499.86,281.82 507.39,281.82 514.92,281.82 522.45,281.82 529.98,281.82 537.51,281.82 545.04,281.82 552.56,281.82 560.09,281.82 567.62,281.82 575.15,281.82 582.68,281.82 590.21,281.82 597.74,281.82 605.26,281.82 612.79,281.82 620.32,281.82 627.85,281.82 635.38,281.82" fill="none" stroke="#27a35c" stroke-width="1.0" stroke-linejoin="round"/>
<polygon points="409.52,454.12 411.82,450.10 407.22,450.10" fill="#27a35c"/>
<polygon points="413.29,429.84 415.59,425.81 410.99,425.81" fill="#27a35c"/>
<polygon points="417.05,387.34 419.35,383.31 414.75,383.31" fill="#27a35c"/>
<polygon points="420.81,332.69 423.11,328.67 418.51,328.67" fill="#27a35c"/>
<polygon points="424.58,314.48 426.88,310.45 422.28,310.45" fill="#27a35c"/>
<polygon points="428.34,296.26 430.64,292.24 426.04,292.24" fill="#27a35c"/>
<polygon points="432.11,290.19 434.41,286.17 429.81,286.17" fill="#27a35c"/>
<polygon points="435.87,284.12 438.17,280.10 433.57,280.10" fill="#27a35c"/>
<polygon points="439.64,284.12 441.94,280.10 437.34,280.10" fill="#27a35c"/>
<polygon points="443.40,284.12 445.70,280.10 441.10,280.10" fill="#27a35c"/>
<polygon points="447.16,284.12 449.46,280.10 444.86,280.10" fill="#27a35c"/>
<polygon points="450.93,284.12 453.23,280.10 448.63,280.10" fill="#27a35c"/>
<polygon points="454.69,284.12 456.99,280.10 452.39,280.10" fill="#27a35c"/>
<polygon points="462.22,284.12 464.52,280.10 459.92,280.10" fill="#27a35c"/>
<polygon points="469.75,284.12 472.05,280.10 467.45,280.10" fill="#27a35c"/>
<polygon points="477.28,284.12 479.58,280.10 474.98,280.10" fill="#27a35c"/>
<polygon points="484.81,284.12 487.11,280.10 482.51,280.10" fill="#27a35c"/>
<polygon points="492.34,284.12 494.64,280.10 490.04,280.10" fill="#27a35c"/>
<polygon points="499.86,284.12 502.16,280.10 497.56,280.10" fill="#27a35c"/>
<polygon points="507.39,284.12 509.69,280.10 505.09,280.10" fill="#27a35c"/>
<polygon points="514.92,284.12 517.22,280.10 512.62,280.10" fill="#27a35c"/>
<polygon points="522.45,284.12 524.75,280.10 520.15,280.10" fill="#27a35c"/>
<polygon points="529.98,284.12 532.28,280.10 527.68,280.10" fill="#27a35c"/>
<polygon points="537.51,284.12 539.81,280.10 535.21,280.10" fill="#27a35c"/>
<polygon points="545.04,284.12 547.34,280.10 542.74,280.10" fill="#27a35c"/>
<polygon points="552.56,284.12 554.86,280.10 550.26,280.10" fill="#27a35c"/>
<polygon points="560.09,284.12 562.39,280.10 557.79,280.10" fill="#27a35c"/>
<polygon points="567.62,284.12 569.92,280.10 565.32,280.10" fill="#27a35c"/>
<polygon points="575.15,284.12 577.45,280.10 572.85,280.10" fill="#27a35c"/>
<polygon points="582.68,284.12 584.98,280.10 580.38,280.10" fill="#27a35c"/>
<polygon points="590.21,284.12 592.51,280.10 587.91,280.10" fill="#27a35c"/>
<polygon points="597.74,284.12 600.04,280.10 595.44,280.10" fill="#27a35c"/>
<polygon points="605.26,284.12 607.56,280.10 602.96,280.10" fill="#27a35c"/>
<polygon points="612.79,284.12 615.09,280.10 610.49,280.10" fill="#27a35c"/>
<polygon points="620.32,284.12 622.62,280.10 618.02,280.10" fill="#27a35c"/>
<polygon points="627.85,284.12 630.15,280.10 625.55,280.10" fill="#27a35c"/>
<polygon points="635.38,284.12 637.68,280.10 633.08,280.10" fill="#27a35c"/>
<rect x="390.70" y="254.50" width="263.50" height="212.50" fill="none" stroke="#000" stroke-width="1.6"/>
<line x1="386.70" y1="451.82" x2="390.70" y2="451.82" stroke="#000" stroke-width="1.6"/>
<text transform="translate(383.70,456.82) scale(1,1.12)" font-size="15.5" text-anchor="end" font-weight="bold">0</text>
<line x1="386.70" y1="421.46" x2="390.70" y2="421.46" stroke="#000" stroke-width="1.6"/>
<text transform="translate(383.70,426.46) scale(1,1.12)" font-size="15.5" text-anchor="end" font-weight="bold">50</text>
<line x1="386.70" y1="391.11" x2="390.70" y2="391.11" stroke="#000" stroke-width="1.6"/>
<text transform="translate(383.70,396.11) scale(1,1.12)" font-size="15.5" text-anchor="end" font-weight="bold">100</text>
<line x1="386.70" y1="360.75" x2="390.70" y2="360.75" stroke="#000" stroke-width="1.6"/>
<text transform="translate(383.70,365.75) scale(1,1.12)" font-size="15.5" text-anchor="end" font-weight="bold">150</text>
<line x1="386.70" y1="330.39" x2="390.70" y2="330.39" stroke="#000" stroke-width="1.6"/>
<text transform="translate(383.70,335.39) scale(1,1.12)" font-size="15.5" text-anchor="end" font-weight="bold">200</text>
<line x1="386.70" y1="300.04" x2="390.70" y2="300.04" stroke="#000" stroke-width="1.6"/>
<text transform="translate(383.70,305.04) scale(1,1.12)" font-size="15.5" text-anchor="end" font-weight="bold">250</text>
<line x1="386.70" y1="269.68" x2="390.70" y2="269.68" stroke="#000" stroke-width="1.6"/>
<text transform="translate(383.70,274.68) scale(1,1.12)" font-size="15.5" text-anchor="end" font-weight="bold">300</text>
<line x1="388.20" y1="467.00" x2="390.70" y2="467.00" stroke="#000" stroke-width="1.6"/>
<line x1="388.20" y1="436.64" x2="390.70" y2="436.64" stroke="#000" stroke-width="1.6"/>
<line x1="388.20" y1="406.29" x2="390.70" y2="406.29" stroke="#000" stroke-width="1.6"/>
<line x1="388.20" y1="375.93" x2="390.70" y2="375.93" stroke="#000" stroke-width="1.6"/>
<line x1="388.20" y1="345.57" x2="390.70" y2="345.57" stroke="#000" stroke-width="1.6"/>
<line x1="388.20" y1="315.21" x2="390.70" y2="315.21" stroke="#000" stroke-width="1.6"/>
<line x1="388.20" y1="284.86" x2="390.70" y2="284.86" stroke="#000" stroke-width="1.6"/>
<line x1="388.20" y1="254.50" x2="390.70" y2="254.50" stroke="#000" stroke-width="1.6"/>
<line x1="409.52" y1="467.00" x2="409.52" y2="471.00" stroke="#000" stroke-width="1.6"/>
<text transform="translate(409.52,486.60) scale(1,1.12)" font-size="15.5" text-anchor="middle" font-weight="bold">0</text>
<line x1="447.16" y1="467.00" x2="447.16" y2="471.00" stroke="#000" stroke-width="1.6"/>
<text transform="translate(447.16,486.60) scale(1,1.12)" font-size="15.5" text-anchor="middle" font-weight="bold">50</text>
<line x1="484.81" y1="467.00" x2="484.81" y2="471.00" stroke="#000" stroke-width="1.6"/>
<text transform="translate(484.81,486.60) scale(1,1.12)" font-size="15.5" text-anchor="middle" font-weight="bold">100</text>
<line x1="522.45" y1="467.00" x2="522.45" y2="471.00" stroke="#000" stroke-width="1.6"/>
<text transform="translate(522.45,486.60) scale(1,1.12)" font-size="15.5" text-anchor="middle" font-weight="bold">150</text>
<line x1="560.09" y1="467.00" x2="560.09" y2="471.00" stroke="#000" stroke-width="1.6"/>
<text transform="translate(560.09,486.60) scale(1,1.12)" font-size="15.5" text-anchor="middle" font-weight="bold">200</text>
<line x1="597.74" y1="467.00" x2="597.74" y2="471.00" stroke="#000" stroke-width="1.6"/>
<text transform="translate(597.74,486.60) scale(1,1.12)" font-size="15.5" text-anchor="middle" font-weight="bold">250</text>
<line x1="635.38" y1="467.00" x2="635.38" y2="471.00" stroke="#000" stroke-width="1.6"/>
<text transform="translate(635.38,486.60) scale(1,1.12)" font-size="15.5" text-anchor="middle" font-weight="bold">300</text>
<line x1="390.70" y1="467.00" x2="390.70" y2="469.50" stroke="#000" stroke-width="1.6"/>
<line x1="428.34" y1="467.00" x2="428.34" y2="469.50" stroke="#000" stroke-width="1.6"/>
<line x1="465.99" y1="467.00" x2="465.99" y2="469.50" stroke="#000" stroke-width="1.6"/>
<line x1="503.63" y1="467.00" x2="503.63" y2="469.50" stroke="#000" stroke-width="1.6"/>
<line x1="541.27" y1="467.00" x2="541.27" y2="469.50" stroke="#000" stroke-width="1.6"/>
<line x1="578.91" y1="467.00" x2="578.91" y2="469.50" stroke="#000" stroke-width="1.6"/>
<line x1="616.56" y1="467.00" x2="616.56" y2="469.50" stroke="#000" stroke-width="1.6"/>
<line x1="654.20" y1="467.00" x2="654.20" y2="469.50" stroke="#000" stroke-width="1.6"/>
<text x="522.50" y="505.00" font-size="16" text-anchor="middle" font-weight="bold" >Time (s)</text>
<text x="0.00" y="0.00" font-size="16.25" text-anchor="middle" font-weight="bold" transform="translate(351.6,360.8) rotate(-90)">Volume (mL)</text>
<text x="337.60" y="258.60" font-size="23.5" text-anchor="start" font-weight="bold" >(d)</text>
<line x1="557.70" y1="407.50" x2="587.70" y2="407.50" stroke="#323232" stroke-width="1.6"/>
<rect x="570.49" y="405.49" width="4.02" height="4.02" fill="#323232"/>
<text x="591.20" y="412.25" font-size="13.0" text-anchor="start" font-weight="bold" >Fe@MAX</text>
<line x1="557.70" y1="424.30" x2="587.70" y2="424.30" stroke="#ee3b3b" stroke-width="1.6"/>
<circle cx="572.50" cy="424.30" r="2.18" fill="#ee3b3b"/>
<text x="591.20" y="429.05" font-size="13.0" text-anchor="start" font-weight="bold" >Co@MAX</text>
<line x1="557.70" y1="440.60" x2="587.70" y2="440.60" stroke="#2a6fe0" stroke-width="1.6"/>
<polygon points="572.50,437.96 575.14,442.58 569.86,442.58" fill="#2a6fe0"/>
<text x="591.20" y="445.35" font-size="13.0" text-anchor="start" font-weight="bold" >Ni@MAX</text>
<line x1="557.70" y1="457.20" x2="587.70" y2="457.20" stroke="#27a35c" stroke-width="1.6"/>
<polygon points="572.50,459.84 575.14,455.22 569.86,455.22" fill="#27a35c"/>
<text x="591.20" y="461.95" font-size="13.0" text-anchor="start" font-weight="bold" >Cu@MAX</text>
</svg></body></html>
